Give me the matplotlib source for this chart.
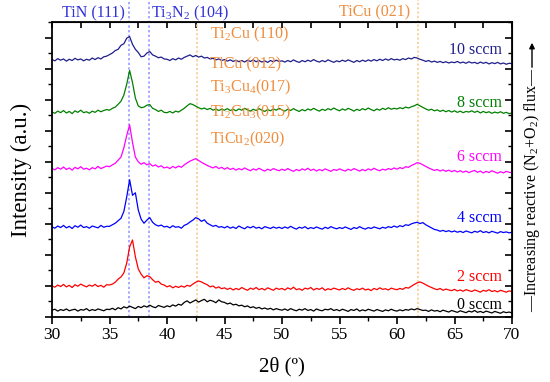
import numpy as np
import matplotlib
matplotlib.use("Agg")
import matplotlib.pyplot as plt
from matplotlib.ticker import MultipleLocator

plt.rcParams['font.family'] = ['Liberation Serif', 'DejaVu Serif']
plt.rcParams['mathtext.fontset'] = 'custom'
plt.rcParams['mathtext.rm'] = 'Liberation Serif'
plt.rcParams['mathtext.it'] = 'Liberation Serif:italic'

# 2-theta grid (degrees), 0.25 deg step
two_theta = np.linspace(30, 70, 161)

s0 = [0.22,0.25,0.19,0.24,0.21,0.26,0.20,0.23,0.25,0.19,0.24,0.22,0.27,0.20,0.24,0.21,0.26,0.23,0.20,0.25,
      0.24,0.28,0.23,0.30,0.26,0.33,0.29,0.35,0.31,0.27,0.34,0.30,0.36,0.32,0.38,0.33,0.30,0.37,0.34,0.31,
      0.36,0.33,0.39,0.35,0.41,0.38,0.47,0.52,0.45,0.50,0.55,0.48,0.53,0.57,0.49,0.54,0.51,0.46,0.55,0.49,
      0.47,0.42,0.45,0.39,0.41,0.36,0.38,0.33,0.36,0.30,0.33,0.28,0.31,0.26,0.29,0.25,0.28,0.23,0.27,0.24,
      0.22,0.26,0.21,0.27,0.23,0.20,0.25,0.22,0.27,0.21,0.24,0.19,0.26,0.22,0.20,0.25,0.23,0.27,0.21,0.24,
      0.20,0.25,0.22,0.18,0.24,0.21,0.26,0.19,0.23,0.20,0.25,0.22,0.19,0.24,0.21,0.18,0.23,0.20,0.25,0.21,
      0.19,0.23,0.20,0.24,0.22,0.26,0.23,0.27,0.24,0.21,0.22,0.18,0.23,0.19,0.21,0.17,0.22,0.19,0.16,0.21,
      0.18,0.15,0.20,0.17,0.14,0.19,0.16,0.21,0.15,0.18,0.14,0.19,0.16,0.13,0.18,0.15,0.12,0.17,0.14,0.16,
      0.13]

s2 = [1.00,0.96,1.03,0.98,1.05,0.97,1.02,0.95,1.04,0.99,1.06,1.01,0.97,1.03,0.99,1.05,0.98,1.02,0.96,1.04,
      1.03,1.06,1.12,1.22,1.29,1.42,1.74,2.26,2.48,1.94,1.55,1.38,1.26,1.33,1.30,1.20,1.12,1.15,1.06,1.03,
      0.97,1.01,0.94,0.99,0.95,1.00,0.96,1.02,0.99,1.06,1.12,1.16,1.13,1.08,1.04,0.97,1.00,0.93,0.97,0.91,
      0.94,0.89,0.93,0.87,0.92,0.88,0.95,0.90,0.86,0.93,0.89,0.95,0.88,0.92,0.87,0.94,0.90,0.86,0.93,0.89,
      0.92,0.87,0.94,0.89,0.96,0.88,0.91,0.86,0.93,0.90,0.95,0.87,0.92,0.89,0.94,0.86,0.91,0.88,0.93,0.90,
      0.87,0.92,0.88,0.94,0.89,0.86,0.91,0.88,0.93,0.87,0.90,0.85,0.92,0.88,0.94,0.89,0.91,0.87,0.93,0.90,
      0.88,0.92,0.89,0.95,0.93,0.99,1.05,1.10,1.13,1.09,1.04,0.99,0.95,0.91,0.88,0.92,0.86,0.90,0.87,0.85,
      0.89,0.84,0.87,0.83,0.88,0.85,0.82,0.87,0.84,0.80,0.86,0.83,0.88,0.82,0.85,0.81,0.86,0.83,0.80,0.84,
      0.82]

s4 = [2.90,2.86,2.93,2.88,2.95,2.87,2.92,2.85,2.94,2.89,2.96,2.88,2.91,2.86,2.93,2.90,2.87,2.95,2.89,2.92,
      2.92,2.97,3.02,3.10,3.18,3.40,3.87,4.42,3.92,4.00,3.45,3.15,3.02,3.12,3.20,3.05,2.97,2.93,2.96,2.90,
      2.92,2.87,2.94,2.89,2.91,2.86,2.95,2.99,3.06,3.12,3.20,3.16,3.08,3.13,3.02,2.97,2.92,2.95,2.89,2.91,
      2.87,2.92,2.86,2.90,2.85,2.93,2.88,2.84,2.91,2.87,2.92,2.86,2.89,2.84,2.91,2.88,2.85,2.90,2.86,2.89,
      2.85,2.90,2.86,2.92,2.87,2.83,2.89,2.86,2.91,2.84,2.88,2.85,2.90,2.86,2.83,2.89,2.85,2.91,2.87,2.84,
      2.88,2.85,2.90,2.86,2.82,2.88,2.85,2.91,2.86,2.83,2.88,2.85,2.90,2.87,2.84,2.89,2.86,2.91,2.88,2.93,
      2.89,2.94,2.91,2.97,2.95,3.00,3.03,3.05,3.01,3.04,2.97,2.92,2.87,2.82,2.80,2.76,2.79,2.75,2.78,2.74,
      2.77,2.73,2.76,2.72,2.77,2.74,2.71,2.76,2.73,2.78,2.72,2.75,2.71,2.76,2.73,2.70,2.75,2.72,2.74,2.71,
      2.73]

s6 = [4.78,4.74,4.81,4.76,4.83,4.75,4.80,4.73,4.82,4.77,4.84,4.76,4.79,4.74,4.81,4.77,4.85,4.78,4.82,4.86,
      4.84,4.90,4.95,5.05,5.15,5.45,5.85,6.19,5.62,5.15,5.00,4.92,4.97,4.90,4.94,4.86,4.90,4.83,4.87,4.80,
      4.83,4.78,4.85,4.80,4.86,4.82,4.90,4.96,5.02,5.06,5.10,5.04,4.98,4.93,4.88,4.84,4.80,4.85,4.78,4.82,
      4.76,4.81,4.75,4.79,4.73,4.78,4.74,4.80,4.75,4.71,4.77,4.73,4.79,4.74,4.70,4.76,4.72,4.78,4.74,4.71,
      4.76,4.72,4.78,4.73,4.69,4.75,4.71,4.77,4.73,4.79,4.72,4.76,4.70,4.75,4.71,4.77,4.73,4.69,4.75,4.72,
      4.77,4.73,4.70,4.76,4.72,4.78,4.74,4.70,4.75,4.71,4.77,4.73,4.79,4.74,4.71,4.76,4.73,4.78,4.75,4.80,
      4.76,4.81,4.78,4.84,4.82,4.88,4.92,4.97,4.95,4.90,4.85,4.80,4.76,4.72,4.75,4.70,4.74,4.69,4.73,4.68,
      4.72,4.67,4.71,4.66,4.70,4.65,4.69,4.72,4.66,4.70,4.64,4.69,4.65,4.71,4.67,4.63,4.68,4.64,4.69,4.66,
      4.65]

s8 = [6.60,6.56,6.63,6.58,6.65,6.57,6.62,6.55,6.64,6.59,6.66,6.58,6.61,6.56,6.63,6.59,6.66,6.61,6.65,6.68,
      6.66,6.72,6.76,6.85,6.95,7.15,7.50,7.94,7.55,7.05,6.80,6.74,6.76,6.82,6.84,6.72,6.68,6.62,6.66,6.59,
      6.58,6.62,6.57,6.63,6.60,6.66,6.72,6.80,6.87,6.84,6.79,6.74,6.70,6.73,6.68,6.72,6.66,6.70,6.65,6.69,
      6.66,6.71,6.65,6.69,6.64,6.70,6.66,6.72,6.67,6.63,6.69,6.65,6.71,6.66,6.62,6.68,6.64,6.70,6.66,6.72,
      6.67,6.63,6.69,6.65,6.71,6.66,6.62,6.68,6.64,6.70,6.66,6.72,6.67,6.63,6.69,6.65,6.71,6.67,6.73,6.68,
      6.64,6.70,6.66,6.72,6.68,6.63,6.69,6.65,6.71,6.67,6.73,6.68,6.64,6.70,6.66,6.72,6.68,6.74,6.69,6.72,
      6.70,6.74,6.71,6.76,6.73,6.77,6.80,6.85,6.80,6.75,6.70,6.66,6.69,6.64,6.67,6.62,6.66,6.61,6.65,6.60,
      6.64,6.59,6.63,6.58,6.62,6.60,6.64,6.59,6.63,6.57,6.62,6.58,6.61,6.56,6.60,6.57,6.61,6.56,6.59,6.55,
      6.57]

s10 = [8.29,8.25,8.32,8.27,8.31,8.24,8.30,8.26,8.33,8.28,8.31,8.25,8.30,8.27,8.34,8.29,8.35,8.31,8.38,8.40,
       8.45,8.50,8.58,8.62,8.75,8.80,8.98,9.03,8.78,8.62,8.52,8.38,8.40,8.50,8.55,8.44,8.40,8.35,8.37,8.31,
       8.30,8.26,8.32,8.28,8.34,8.30,8.36,8.40,8.44,8.38,8.42,8.37,8.40,8.34,8.36,8.31,8.33,8.28,8.31,8.26,
       8.29,8.24,8.28,8.23,8.27,8.22,8.26,8.21,8.27,8.23,8.28,8.22,8.26,8.21,8.25,8.20,8.26,8.22,8.27,8.23,
       8.25,8.21,8.26,8.22,8.28,8.23,8.20,8.26,8.22,8.27,8.23,8.29,8.24,8.21,8.26,8.22,8.28,8.24,8.20,8.25,
       8.22,8.27,8.23,8.28,8.24,8.20,8.26,8.22,8.27,8.23,8.28,8.24,8.29,8.25,8.30,8.26,8.31,8.27,8.32,8.28,
       8.30,8.27,8.32,8.29,8.34,8.31,8.36,8.34,8.30,8.27,8.23,8.26,8.21,8.24,8.20,8.23,8.19,8.22,8.18,8.21,
       8.19,8.23,8.18,8.21,8.17,8.22,8.18,8.20,8.16,8.21,8.17,8.20,8.15,8.19,8.16,8.20,8.15,8.18,8.14,8.17,
       8.16]

series = [s0, s2, s4, s6, s8, s10]
series_labels = ["0 sccm", "2 sccm", "4 sccm", "6 sccm", "8 sccm", "10 sccm"]
series_colors = ["#000000", "#ff0000", "#0000ff", "#ff00ff", "#008000", "#1e1e8c"]
label_y = [0.39, 1.29, 3.19, 5.16, 6.90, 8.61]

tin_lines = [36.7, 38.4]
ticu_lines = [42.6, 61.8]
ticu_labels = ["Ti$_2$Cu (110)", "TiCu (012)", "Ti$_3$Cu$_4$(017)", "Ti$_2$Cu$_3$(015)", "TiCu$_2$(020)"]
ticu_label_y = [9.10, 8.13, 7.39, 6.58, 5.71]

W, H = 550, 382
fig = plt.figure(figsize=(W / 100, H / 100), dpi=100)
ax = fig.add_axes([52 / W, (H - 317) / H, 460 / W, 295 / H])

blue_txt = "#3030d8"
orange = "#f08c3c"

for xv in tin_lines:
    ax.axvline(xv, ymin=0, ymax=1 + 22 / 295, color="#a8a8ff", ls=(0, (1.2, 1.2)), lw=1.4,
               clip_on=False, zorder=1)
ax.axvline(ticu_lines[0], ymin=0, ymax=1, color="#f8d29a", ls=(0, (1.2, 1.2)), lw=1.3, zorder=1)
ax.axvline(ticu_lines[1], ymin=0, ymax=1 + 22 / 295, color="#f8d29a", ls=(0, (1.2, 1.2)), lw=1.3,
           clip_on=False, zorder=1)

for ys, col in zip(series, series_colors):
    ax.plot(two_theta, ys, color=col, lw=0.9, zorder=2)

for lab, col, yv in zip(series_labels, series_colors, label_y):
    ax.text(69.15, yv, lab, color=col, fontsize=11.5, ha="right", va="center", zorder=3)

for lab, yv in zip(ticu_labels, ticu_label_y):
    ax.text(43.75, yv, lab, color=orange, fontsize=11.5, ha="left", va="center", zorder=3)

ax.set_xlim(30, 70)
ax.set_ylim(0, 9.5)
ax.xaxis.set_major_locator(MultipleLocator(5))
ax.xaxis.set_minor_locator(MultipleLocator(2.5))
ax.yaxis.set_major_locator(MultipleLocator(1))
ax.yaxis.set_minor_locator(MultipleLocator(0.5))
ax.set_yticklabels([])
ax.tick_params(axis="both", which="major", direction="out", length=5, width=1.2, labelsize=12.5)
ax.tick_params(axis="both", which="minor", direction="out", length=3, width=1.0)
ax.tick_params(axis="x", pad=2)
for sp in ax.spines.values():
    sp.set_linewidth(1.3)

top = ax.secondary_xaxis("top")
top.xaxis.set_major_locator(MultipleLocator(2.5))
top.tick_params(direction="in", length=4, width=1.2, labeltop=False)
right = ax.secondary_yaxis("right")
right.yaxis.set_major_locator(MultipleLocator(1))
right.yaxis.set_minor_locator(MultipleLocator(0.5))
right.tick_params(which="major", direction="in", length=5, width=1.2, labelright=False)
right.tick_params(which="minor", direction="in", length=3, width=1.0, labelright=False)

ax.set_xlabel("2θ (º)", fontsize=15, labelpad=10)
ax.set_ylabel("Intensity (a.u.)", fontsize=16.5, labelpad=6)

def fx(px):
    return px / W

def fy(py):
    return 1 - py / H

fig.text(fx(93), fy(13), "TiN (111)", color=blue_txt, fontsize=11.5, ha="center", va="center")
fig.text(fx(190), fy(13), "Ti$_3$N$_2$ (104)", color=blue_txt, fontsize=11.5, ha="center", va="center")
fig.text(fx(375), fy(12), "TiCu (021)", color=orange, fontsize=11.5, ha="center", va="center")

fig.text(fx(532), fy(190), "—Increasing reactive (N$_2$+O$_2$) flux—", rotation=90,
         fontsize=11.5, ha="center", va="center", color="black")
fig.add_artist(matplotlib.patches.FancyArrowPatch((fx(532), fy(70)), (fx(532), fy(40)),
               transform=fig.transFigure, arrowstyle="-|>", mutation_scale=8, lw=1.0, color="black"))

fig.savefig("out.png", dpi=100)
